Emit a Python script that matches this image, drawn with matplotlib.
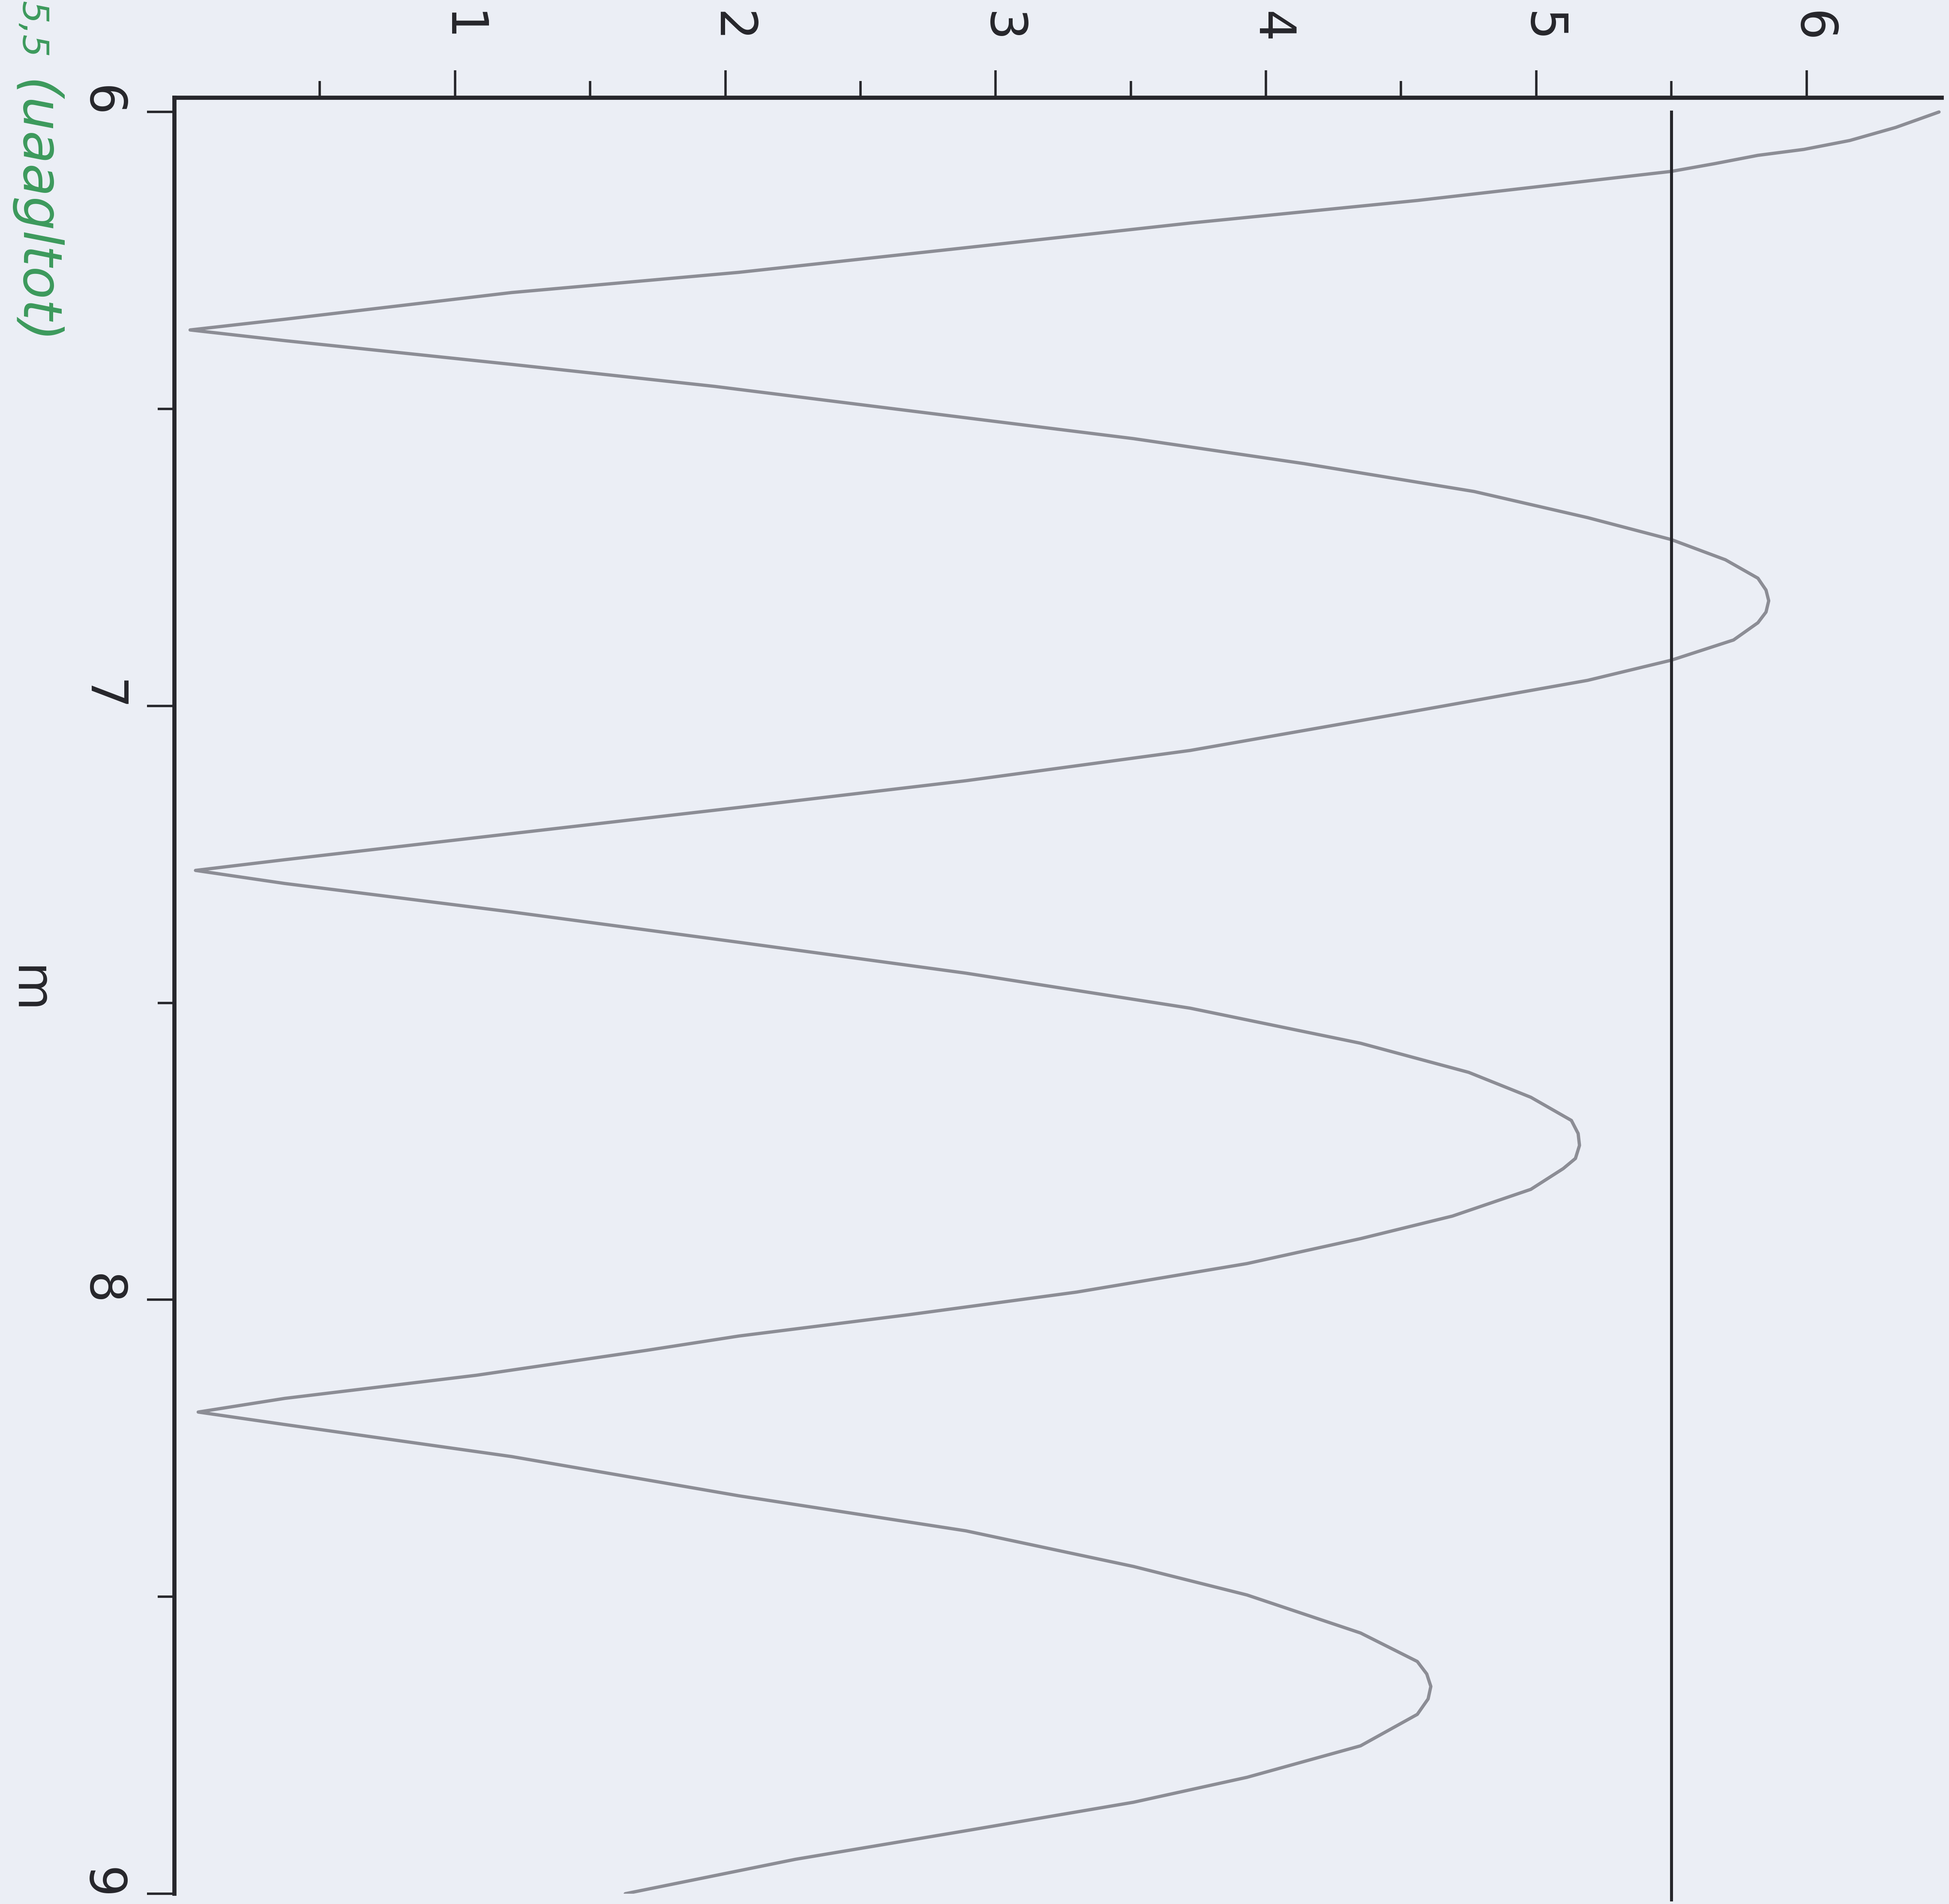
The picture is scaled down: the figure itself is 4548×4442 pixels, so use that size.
"""plot.py — |response| against m, drawn in the landscape print orientation."""

import matplotlib
matplotlib.use('Agg')
import matplotlib.pyplot as plt
from matplotlib.transforms import ScaledTranslation


# ── Data ──────────────────────────────────────────────────────────────────────

m_values = [
    6.000, 6.026, 6.048, 6.063, 6.073, 6.087, 6.100, 6.149, 6.187, 6.229,
    6.270, 6.304, 6.349, 6.367, 6.385, 6.425, 6.462, 6.503, 6.550, 6.592,
    6.639, 6.683, 6.720, 6.754, 6.785, 6.805, 6.823, 6.842, 6.860, 6.889,
    6.923, 6.957, 7.008, 7.075, 7.126, 7.171, 7.215, 7.259, 7.277, 7.299,
    7.347, 7.398, 7.450, 7.509, 7.568, 7.617, 7.659, 7.698, 7.720, 7.740,
    7.762, 7.779, 7.814, 7.859, 7.897, 7.939, 7.987, 8.025, 8.061, 8.085,
    8.127, 8.166, 8.189, 8.210, 8.264, 8.330, 8.389, 8.449, 8.497, 8.561,
    8.609, 8.630, 8.651, 8.672, 8.698, 8.751, 8.804, 8.846, 8.894, 8.942,
    9.000,
]
response = [
    6.49, 6.33, 6.16, 5.99, 5.82, 5.66, 5.50, 4.56, 3.72, 2.88,
    2.05, 1.21, 0.37, 0.02, 0.37, 1.21, 1.96, 2.68, 3.51, 4.14,
    4.77, 5.19, 5.50, 5.70, 5.82, 5.85, 5.86, 5.85, 5.82, 5.73,
    5.50, 5.19, 4.56, 3.72, 2.89, 2.05, 1.21, 0.37, 0.04, 0.37,
    1.21, 2.05, 2.89, 3.72, 4.35, 4.75, 4.98, 5.13, 5.155, 5.16,
    5.145, 5.10, 4.98, 4.69, 4.35, 3.93, 3.30, 2.68, 2.05, 1.71,
    1.08, 0.37, 0.05, 0.37, 1.21, 2.05, 2.89, 3.51, 3.93, 4.35,
    4.56, 4.595, 4.61, 4.60, 4.56, 4.35, 3.93, 3.51, 2.89, 2.26,
    1.63,
]

threshold = 5.5
threshold_m = [6.0, 9.01]

value_ticks = [1, 2, 3, 4, 5, 6]
value_minor = [0.5, 1.5, 2.5, 3.5, 4.5, 5.5]
m_ticks = [6, 7, 8, 9]
m_minor = [6.5, 7.5, 8.5]

note_value = '5,5'
note_text = '(uaagltot)'


# ── Style ─────────────────────────────────────────────────────────────────────

PAPER = '#ebeef5'
INK = '#26262b'
CURVE = '#8c8d95'
GREEN = '#3c9a5c'

W, H = 4548, 4442
fig = plt.figure(figsize=(W / 100, H / 100), dpi=100)
fig.patch.set_facecolor(PAPER)

# value axis runs across the top, m runs down the left side (page turned)
ax_left, ax_right = 407 / W, 4531 / W
ax_top, ax_bottom = 1 - 228 / H, 1 - 4418 / H
ax = fig.add_axes([ax_left, ax_bottom, ax_right - ax_left, ax_top - ax_bottom])
ax.set_facecolor('none')

ax.plot(response, m_values, color=CURVE, lw=5.5, solid_joinstyle='round',
        solid_capstyle='round')
ax.plot([threshold, threshold], threshold_m, color=INK, lw=5, clip_on=False)

ax.set_xlim(-0.038, 6.5)
ax.set_ylim(9.0, 5.976)

for side in ('right', 'bottom'):
    ax.spines[side].set_visible(False)
for side in ('top', 'left'):
    ax.spines[side].set_linewidth(7)
    ax.spines[side].set_color(INK)
    ax.spines[side].set_capstyle('projecting')

ax.xaxis.tick_top()
ax.set_xticks(value_ticks)
ax.set_xticks(value_minor, minor=True)
ax.set_xticklabels([str(t) for t in value_ticks])
ax.set_yticks(m_ticks)
ax.set_yticks(m_minor, minor=True)
ax.set_yticklabels([str(t) for t in m_ticks])

ax.tick_params(which='both', direction='out', color=INK, width=4)
ax.tick_params(which='major', length=46)
ax.tick_params(which='minor', length=28)
ax.tick_params(axis='x', which='major', pad=46, labelsize=84,
               labelrotation=-90, labelcolor=INK)
ax.tick_params(axis='y', which='major', pad=36, labelsize=84,
               labelrotation=-90, labelcolor=INK)

# sideways digits sit a little off their ticks
shift_x = ScaledTranslation(12 / 100, 0, fig.dpi_scale_trans)
shift_y = ScaledTranslation(0, 24 / 100, fig.dpi_scale_trans)
for lab in ax.get_xticklabels():
    lab.set_transform(lab.get_transform() + shift_x)
for lab in ax.get_yticklabels():
    lab.set_va('center')
    lab.set_transform(lab.get_transform() + shift_y)

# axis name for m, set sideways like the tick labels
fig.text(65 / W, 1 - 2310 / H, 'm', rotation=-90, ha='center', va='center',
         fontsize=84, color=INK)

# handwritten note in the margin
fig.text(75 / W, 1 - 2 / H, note_value, rotation=-90, ha='center',
         va='top', fontsize=60, style='italic', color=GREEN)
fig.text(80 / W, 1 - 805 / H, note_text, rotation=-90, ha='center',
         va='bottom', fontsize=90, style='italic', color=GREEN)

fig.savefig('out.png', dpi=100, facecolor=PAPER)
